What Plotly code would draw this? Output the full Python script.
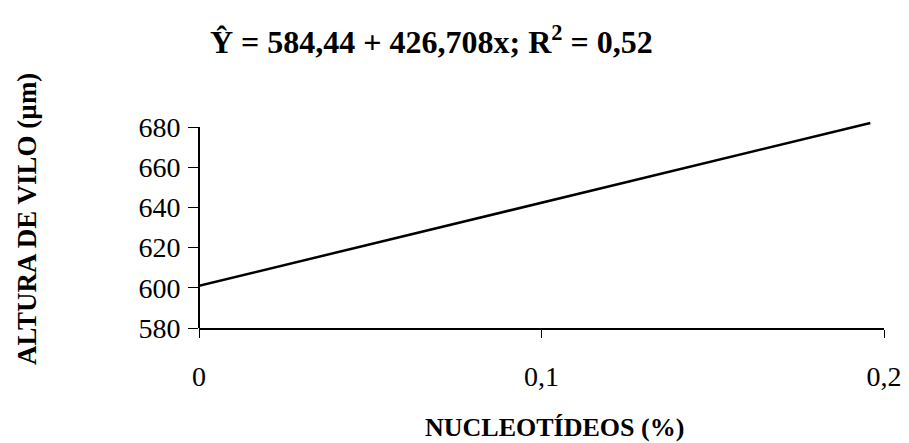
import plotly.graph_objects as go

x_vals = [0, 0.196]
y_vals = [601, 682]
y_ticks = [580, 600, 620, 640, 660, 680]
x_ticks = [0, 0.1, 0.2]
x_tick_labels = ["0", "0,1", "0,2"]

title_text = "<b>Ŷ = 584,44 + 426,708x; R<sup>2</sup> = 0,52</b>"
x_title = "<b>NUCLEOTÍDEOS (%)</b>"
y_title = "<b>ALTURA DE VILO (µm)</b>"

serif = "Liberation Serif"

# page offset (body margin) of 8 px
OFF = 8
L, R, T, B = 199, 884, 121, 328  # target plot area in screenshot px
PW, PH = R - L, B - T

fig = go.Figure()
fig.add_trace(go.Scatter(x=x_vals, y=y_vals, mode="lines",
                         line=dict(color="black", width=2.5),
                         showlegend=False))

fig.add_shape(type="line", xref="paper", yref="y", x0=0, x1=0,
              y0=y_ticks[0], y1=y_ticks[-1], line=dict(color="black", width=2))

fig.update_layout(
    width=909, height=443,
    margin=dict(l=L - OFF, r=909 - R + OFF, t=T - OFF, b=443 - B + OFF),
    paper_bgcolor="white", plot_bgcolor="white",
    font=dict(family=serif, color="black"),
    xaxis=dict(range=[0, 0.2], tickvals=x_ticks, ticktext=x_tick_labels,
               showgrid=False, zeroline=False, showline=True, linecolor="black",
               linewidth=2, ticks="outside", ticklen=8, tickwidth=1, tickcolor="black",
               tickfont=dict(size=28, family=serif), ticklabelstandoff=14,
               ticklabeloverflow="allow"),
    yaxis=dict(range=[580, 683], tickvals=y_ticks,
               showgrid=False, zeroline=False, showline=False,
               ticks="outside", ticklen=10, tickwidth=1, tickcolor="black",
               tickfont=dict(size=28, family=serif), ticklabelstandoff=2),
    annotations=[
        dict(text=title_text, xref="paper", yref="paper", x=(431 - L) / PW, y=(B - 40) / PH,
             xanchor="center", yanchor="middle", showarrow=False,
             font=dict(size=32, family=serif)),
        dict(text=x_title, xref="paper", yref="paper", x=(554 - L) / PW, y=-(427 - B) / PH,
             xanchor="center", yanchor="middle", showarrow=False,
             font=dict(size=26, family=serif)),
        dict(text=y_title, xref="paper", yref="paper", x=-(L - 27) / PW, y=(B - 219) / PH,
             xanchor="center", yanchor="middle", showarrow=False, textangle=-90,
             font=dict(size=27, family=serif)),
    ],
)

fig.write_html("out.html", config={"displayModeBar": False})
